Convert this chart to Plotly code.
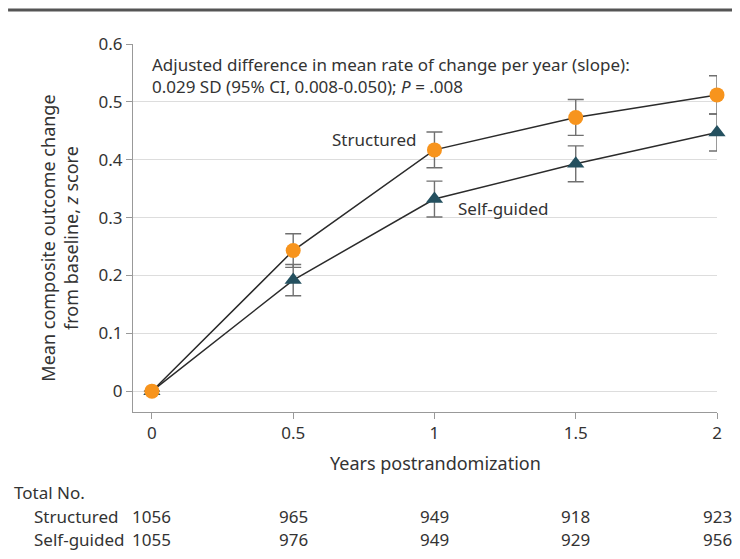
import plotly.graph_objects as go

years = [0, 0.5, 1, 1.5, 2]
structured_mean = [0, 0.243, 0.417, 0.473, 0.512]
structured_err = [0, 0.029, 0.031, 0.031, 0.033]
selfguided_mean = [0, 0.192, 0.332, 0.393, 0.447]
selfguided_err = [0, 0.027, 0.031, 0.031, 0.032]
n_structured = [1056, 965, 949, 918, 923]
n_selfguided = [1055, 976, 949, 929, 956]
x_ticks = [0, 0.5, 1, 1.5, 2]
x_tick_text = ["0", "0.5", "1", "1.5", "2"]
y_ticks = [0, 0.1, 0.2, 0.3, 0.4, 0.5, 0.6]
y_tick_text = ["0", "0.1", "0.2", "0.3", "0.4", "0.5", "0.6"]

FONT = "Noto Sans, Open Sans, sans-serif"
TXT = "#333333"
ORANGE = "#F7941D"
TEAL = "#24505F"

# plot area in page pixels (page has an 8px body margin)
PL, PR, PT, PB = 133, 722, 44, 412
OFF = 8
W, H = 740 - 2 * OFF, 559 - 2 * OFF


def px(page_x):
    return (page_x - PL) / (PR - PL)


def py(page_y):
    return (PB - page_y) / (PB - PT)


fig = go.Figure()

fig.add_trace(go.Scatter(
    x=years, y=selfguided_mean, mode="lines+markers", name="Self-guided",
    line=dict(color="#2b2b2b", width=1.5),
    marker=dict(symbol="triangle-up", size=15, color=TEAL),
    error_y=dict(type="data", array=selfguided_err, visible=True,
                 color="#707070", thickness=1.4, width=8),
    cliponaxis=False, showlegend=False,
))
fig.add_trace(go.Scatter(
    x=years, y=structured_mean, mode="lines+markers", name="Structured",
    line=dict(color="#2b2b2b", width=1.5),
    marker=dict(symbol="circle", size=15, color=ORANGE),
    error_y=dict(type="data", array=structured_err, visible=True,
                 color="#707070", thickness=1.4, width=8),
    cliponaxis=False, showlegend=False,
))

F17 = dict(family=FONT, size=17, color=TXT)


def ann(x, y, text, font=F17, xanchor="center", xref="paper", **kw):
    return dict(x=x, y=y, xref=xref, yref="paper", xanchor=xanchor, yanchor="middle",
                showarrow=False, text=text, font=font, **kw)


annotations = [
    ann(px(150), py(75),
        "Adjusted difference in mean rate of change per year (slope):<br>"
        "0.029 SD (95% CI, 0.008-0.050); <i>P</i> = .008",
        xanchor="left", align="left"),
    ann(px(377), py(139), "Structured"),
    ann(px(506), py(208), "Self-guided"),
    ann(px(438), py(463), "Years postrandomization",
        font=dict(family=FONT, size=18, color=TXT)),
    ann(px(58), py(238),
        "Mean composite outcome change<br>from baseline, <i>z</i> score",
        font=dict(family=FONT, size=18, color=TXT), textangle=-90),
    ann(px(11), py(492), "Total No.", xanchor="left"),
    ann(px(31), py(516), "Structured", xanchor="left"),
    ann(px(31), py(539), "Self-guided", xanchor="left"),
]
for xv, n in zip(years, n_structured):
    annotations.append(ann(xv, py(516), str(n), xref="x"))
for xv, n in zip(years, n_selfguided):
    annotations.append(ann(xv, py(539), str(n), xref="x"))

fig.update_layout(
    width=W, height=H,
    margin=dict(l=PL - OFF, r=W - (PR - OFF), t=PT - OFF, b=H - (PB - OFF)),
    paper_bgcolor="white", plot_bgcolor="white",
    font=dict(family=FONT, size=17, color=TXT),
    annotations=annotations,
    shapes=[dict(type="line", xref="paper", yref="paper",
                 x0=px(7), x1=px(760), y0=py(10), y1=py(10),
                 line=dict(color="#555555", width=3))],
    xaxis=dict(range=[-0.067, 2.0], tickvals=x_ticks, ticktext=x_tick_text,
               showgrid=False, zeroline=False, showline=True, linecolor="#999999",
               linewidth=1, ticks="outside", ticklen=6, tickcolor="#999999",
               tickfont=dict(family=FONT, size=17, color=TXT)),
    yaxis=dict(range=[-0.036, 0.6], tickvals=y_ticks, ticktext=y_tick_text,
               showgrid=True, gridcolor="#dddddd", gridwidth=1, zeroline=False,
               showline=True, linecolor="#999999", linewidth=1,
               ticks="outside", ticklen=6, tickcolor="#999999",
               tickfont=dict(family=FONT, size=17, color=TXT)),
)

fig.write_html("out.html")
